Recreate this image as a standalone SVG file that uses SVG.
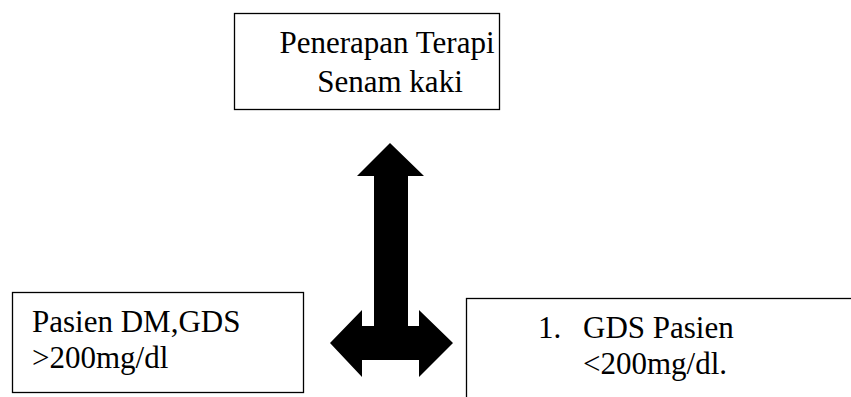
<svg xmlns="http://www.w3.org/2000/svg" width="851" height="397" viewBox="0 0 851 397">
<style>
.box{fill:#fff;stroke:#000;stroke-width:1.3}
.t{font-family:"Liberation Serif","Times New Roman",serif;font-size:31px;fill:#000}
</style>
<rect width="851" height="397" fill="#fff"/>
<g id="connectors">
<polygon fill="#000" points="390,143 424,176 408,176 408,326 419,326 419,310 453,343 419,377 419,360 362,360 362,377 330,343 362,310 362,326 374,326 374,176 357,176"/>
</g>
<g id="node-top">
<rect class="box" x="234.5" y="13.5" width="265" height="96"/>
<text class="t" x="387" y="53" text-anchor="middle">Penerapan Terapi</text>
<text class="t" x="390" y="92" text-anchor="middle">Senam kaki</text>
</g>
<g id="node-left">
<rect class="box" x="12.5" y="292.5" width="291" height="100"/>
<text class="t" x="32" y="332">Pasien DM,GDS</text>
<text class="t" x="32" y="368">&gt;200mg/dl</text>
</g>
<g id="node-right">
<rect class="box" x="466.5" y="298.5" width="400" height="120"/>
<text class="t" x="538" y="338">1.</text>
<text class="t" x="583" y="338">GDS Pasien</text>
<text class="t" x="583" y="374">&lt;200mg/dl.</text>
</g>
</svg>
